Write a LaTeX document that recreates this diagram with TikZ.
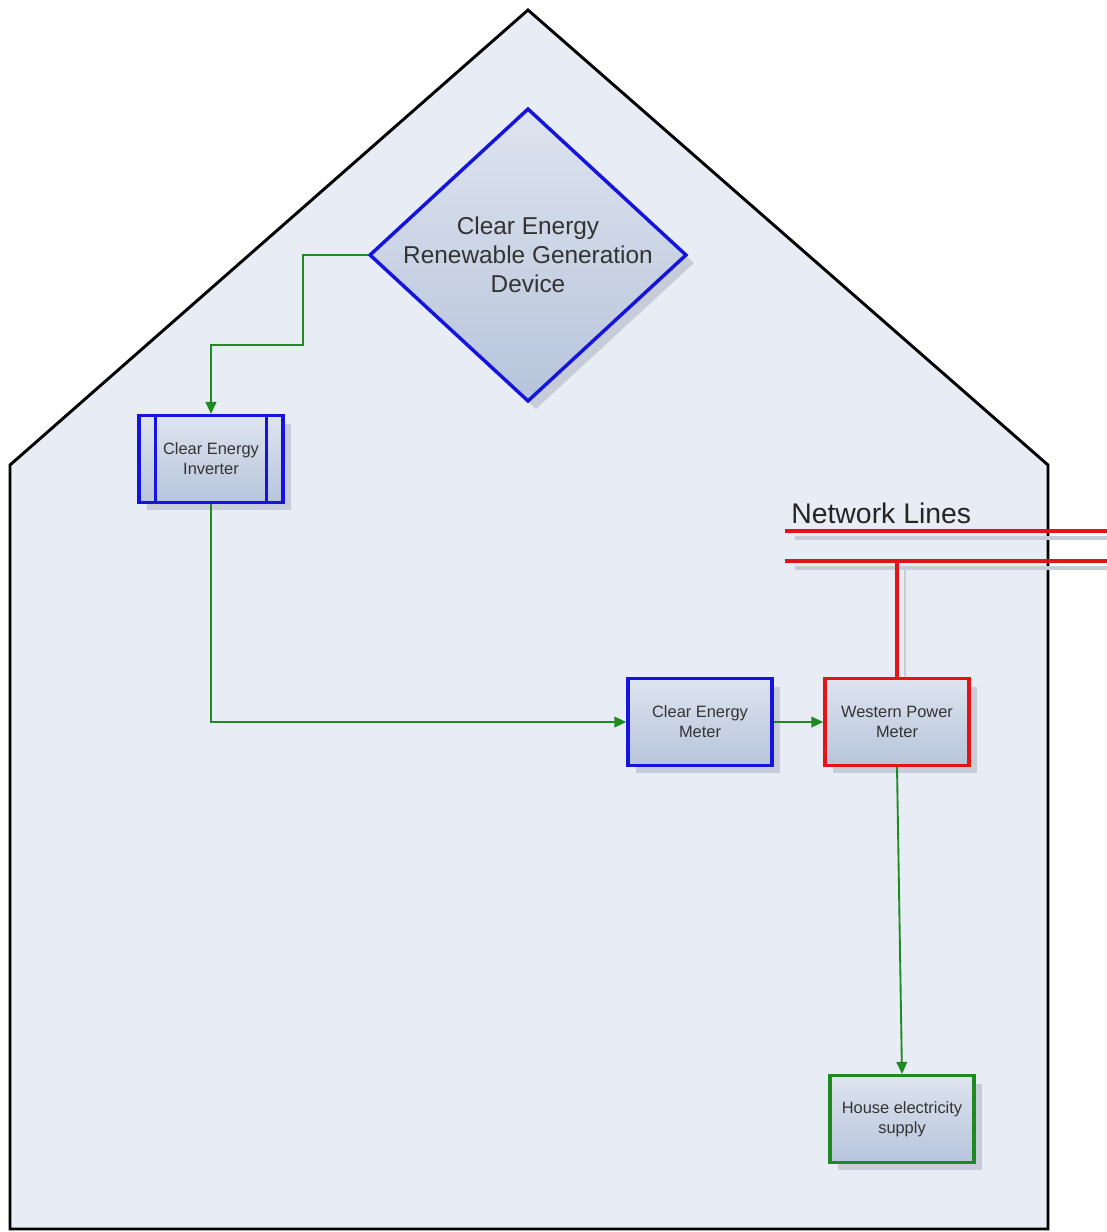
\documentclass[tikz,border=0pt]{standalone}
\usepackage{fontspec}
\setmainfont{Liberation Sans}
\usetikzlibrary{shapes.geometric,shadows,arrows.meta,calc}

\definecolor{housefill}{HTML}{E7ECF5}
\definecolor{boxtop}{HTML}{DEE4EF}
\definecolor{boxbottom}{HTML}{B7C4DB}
\definecolor{boxshade}{HTML}{C6CDD9}
\definecolor{ceblue}{HTML}{1414DC}
\definecolor{wpred}{HTML}{E41414}
\definecolor{flowgreen}{HTML}{1F8A1F}
\definecolor{textgray}{HTML}{333333}

\tikzset{
	unit/.style={rectangle,minimum width=108pt,minimum height=65pt,line width=2.6pt,
		top color=boxtop,bottom color=boxbottom,text=textgray,align=center,
		font=\fontsize{12.3}{15}\selectfont,
		general shadow={fill=boxshade,shadow xshift=6pt,shadow yshift=-6pt}},
	gendev/.style={diamond,minimum width=238pt,minimum height=220pt,inner sep=0pt,
		line width=2.6pt,draw=ceblue,shading angle=135,top color=boxtop,bottom color=boxbottom,
		general shadow={fill=boxshade,shadow xshift=6pt,shadow yshift=-6pt}},
	flow/.style={flowgreen,line width=1.4pt,-{Triangle[length=9pt,width=8pt]}},
	netline/.style={wpred,line width=2.8pt},
	netshade/.style={boxshade,line width=2.8pt}
}

\begin{document}
\begin{tikzpicture}[x=0.75pt,y=-0.75pt]
			\useasboundingbox (0,0) rectangle (1107,1232);
			
			% house outline
			\draw[line width=2.2pt,fill=housefill,line join=miter] (528,10) -- (1048,465) -- (1048,1229) -- (10,1229) -- (10,465) -- cycle;
			
			% network lines
			\coordinate (netA) at (785,531);
			\coordinate (netAend) at (1107,531);
			\coordinate (netB) at (785,561);
			\coordinate (netBend) at (1107,561);
			\draw[netshade] ($(netA)+(10,7)$) -- ($(netAend)+(0,7)$);
			\draw[netshade] ($(netB)+(10,7)$) -- ($(netBend)+(0,7)$);
			\draw[netline] (netA) -- (netAend);
			\draw[netline] (netB) -- (netBend);
			\node[anchor=base west,inner sep=0pt,text=textgray!70!black,font=\fontsize{21.3}{24}\selectfont] (netlabel) at (791,523) {Network Lines};
			
			% units
			\node[gendev] (gen) at (528,255) {};
			\node[align=center,text=textgray,font=\fontsize{18.3}{21.75}\selectfont] (gentext) at (gen.center) {Clear Energy\\Renewable Generation\\Device};
			\node[unit,draw=ceblue] (inv) at (211,459) {Clear Energy\\Inverter};
			\draw[ceblue,line width=2.6pt] ($(inv.north west)+(18,0)$) -- ($(inv.south west)+(18,0)$);
			\draw[ceblue,line width=2.6pt] ($(inv.north east)+(-18,0)$) -- ($(inv.south east)+(-18,0)$);
			\node[unit,draw=ceblue] (cemeter) at (700,722) {Clear Energy\\Meter};
			\node[unit,draw=wpred] (wpmeter) at (897,722) {Western Power\\Meter};
			\node[unit,draw=flowgreen] (supply) at (902,1119) {House electricity\\supply};
			
			% connectors
			\draw[netshade,line width=2pt] ($(wpmeter.north)+(8,0)$) -- ($(wpmeter.north |- netB)+(8,8)$);
			\draw[netline] (wpmeter.north) -- (wpmeter.north |- netB);
			\draw[flow] (gen.west) -| (303,345) -| (inv.north);
			\draw[flow] (inv.south) |- (cemeter.west);
			\draw[flow] (cemeter) -- (wpmeter);
			\draw[flow] (wpmeter.south) -- (supply.north);
\end{tikzpicture}
\end{document}
